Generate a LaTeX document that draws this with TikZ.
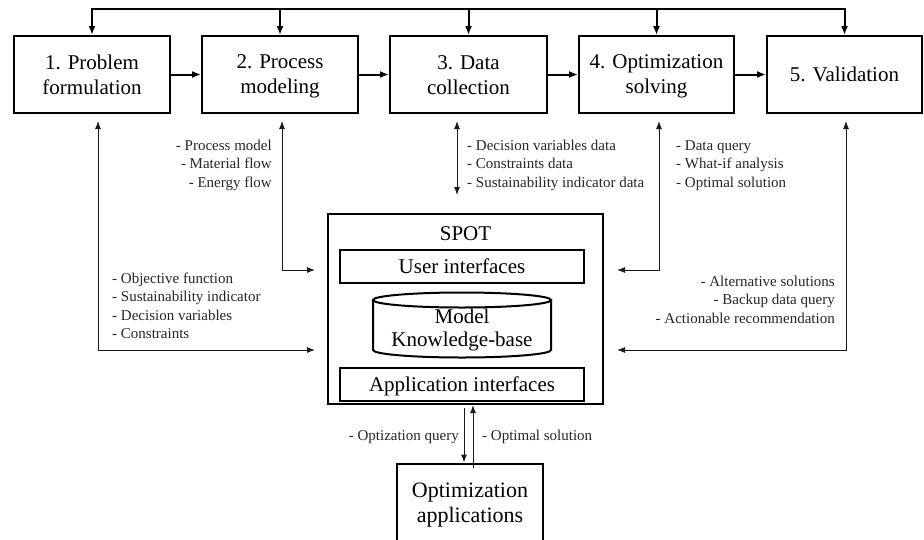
\documentclass[tikz,border=0pt]{standalone}
\usepackage{fontspec}
\setmainfont{Liberation Serif}
\usetikzlibrary{arrows.meta}
% uniform line box so that every line sits at the same height
\newcommand\lnstrut{\rule[-0.2em]{0pt}{1.08em}}
\begin{document}
\begin{tikzpicture}[x=1pt,y=-1pt,
  stagebox/.style={draw, line width=2pt, minimum width=156pt, minimum height=77pt,
    inner sep=0pt, align=center, font=\fontsize{21}{25}\selectfont},
  innerbox/.style={draw, line width=2pt, minimum width=244pt, minimum height=33pt,
    inner sep=0pt, align=center, font=\fontsize{21}{23}\selectfont},
  bigtext/.style={inner sep=0pt, align=center, font=\fontsize{21}{23}\selectfont},
  lbl/.style={inner sep=0pt, font=\fontsize{15}{18.4}\selectfont, text=black!85},
  thick arrow/.style={line width=2pt, -{Latex[length=9pt,width=7pt]}},
  thick line/.style={line width=2pt},
  conn/.style={line width=1pt, black!90, >={Latex[length=8pt,width=6pt]}}
]
\useasboundingbox (0,0) rectangle (924,539);
\clip (0,0) rectangle (924,539);

% process stages
\node[stagebox] (b1) at (92,74.5)    {\lnstrut 1. Problem\\\lnstrut formulation};
\node[stagebox] (b2) at (280,74.5)   {\lnstrut 2. Process\\\lnstrut modeling};
\node[stagebox, minimum width=157pt] (b3) at (468.5,74.5) {\lnstrut 3. Data\\\lnstrut collection};
\node[stagebox, minimum width=155pt] (b4) at (656.5,74.5) {\lnstrut 4. Optimization\\\lnstrut solving};
\node[stagebox, minimum width=155pt] (b5) at (844.5,74.5) {\lnstrut 5. Validation};

\draw[thick arrow] (b1) -- (b2);
\draw[thick arrow] (b2) -- (b3);
\draw[thick arrow] (b3) -- (b4);
\draw[thick arrow] (b4) -- (b5);

% feedback bus above the stages
\coordinate (busL) at (92,9);
\coordinate (busR) at (844.5,9);
\draw[thick line] ([xshift=-1pt]busL) -- ([xshift=1pt]busR);
\foreach \b in {b1,b2,b3,b4,b5}
  \draw[thick arrow] (\b.north |- busL) -- (\b.north);

% SPOT platform
\node[draw, line width=2pt, minimum width=275pt, minimum height=190pt, inner sep=0pt] (spot) at (465.5,309) {};
\node[bigtext, anchor=base] (spotlbl) at (465.5,240) {SPOT};
\node[innerbox] (ui) at (462,266.5) {\lnstrut User interfaces};
\node[innerbox] (ai) at (462,384.5) {\lnstrut Application interfaces};

% knowledge base cylinder
\draw[line width=2pt] (373,300) -- (373,350)
  arc[start angle=180, end angle=360, x radius=89pt, y radius=7.5pt] -- (551,300);
\draw[line width=2pt] (462,300) ellipse[x radius=89pt, y radius=7.5pt];
\node[bigtext] (kb) at (462,328.5) {\lnstrut Model\\\lnstrut Knowledge-base};

% optimization applications
\node[draw, line width=2pt, minimum width=146pt, minimum height=78pt, inner sep=0pt,
  align=center, font=\fontsize{22}{25}\selectfont] (app) at (470,502.5)
  {\lnstrut Optimization\\\lnstrut applications};

% entry points at the sides of SPOT
\coordinate (inA) at (315,350);
\coordinate (inB) at (315,270);
\coordinate (inC) at (617,270);
\coordinate (inD) at (617,350);

% stage <-> SPOT exchanges
\draw[conn, <->] ([xshift=6pt,yshift=-7pt]b1.south) |- (inA);
\draw[conn, <->] ([xshift=2pt,yshift=-7pt]b2.south) |- (inB);
\draw[conn, <->] ([xshift=-11.5pt,yshift=-7pt]b3.south) -- ++(0,74);
\draw[conn, <->] ([xshift=2.5pt,yshift=-7pt]b4.south) |- (inC);
\draw[conn, <->] ([xshift=1.5pt,yshift=-7pt]b5.south) |- (inD);

% SPOT <-> applications
\coordinate (dnx) at (464,0);
\coordinate (upx) at (473,0);
\draw[conn, ->] ([yshift=-3pt]spot.south -| dnx) -- (app.north -| dnx);
\draw[conn, ->] ([yshift=-5pt]app.north -| upx) -- (spot.south -| upx);

% exchange labels
\node[lbl, anchor=north east, align=right] (l2) at (272,136.8)
  {\lnstrut - Process model\\\lnstrut - Material flow\\\lnstrut - Energy flow};
\node[lbl, anchor=north west, align=left] (l1) at (112,269.8)
  {\lnstrut - Objective function\\\lnstrut - Sustainability indicator\\\lnstrut - Decision variables\\\lnstrut - Constraints};
\node[lbl, anchor=north west, align=left] (l3) at (467,136.8)
  {\lnstrut - Decision variables data\\\lnstrut - Constraints data\\\lnstrut - Sustainability indicator data};
\node[lbl, anchor=north west, align=left] (l4) at (676,136.8)
  {\lnstrut - Data query\\\lnstrut - What-if analysis\\\lnstrut - Optimal solution};
\node[lbl, anchor=north east, align=right] (l5) at (835,272.8)
  {\lnstrut - Alternative solutions\\\lnstrut - Backup data query\\\lnstrut - Actionable recommendation};
\node[lbl, anchor=north east] (lq) at (459,426.8) {\lnstrut - Optization query};
\node[lbl, anchor=north west] (ls) at (482,426.8) {\lnstrut - Optimal solution};
\end{tikzpicture}
\end{document}
